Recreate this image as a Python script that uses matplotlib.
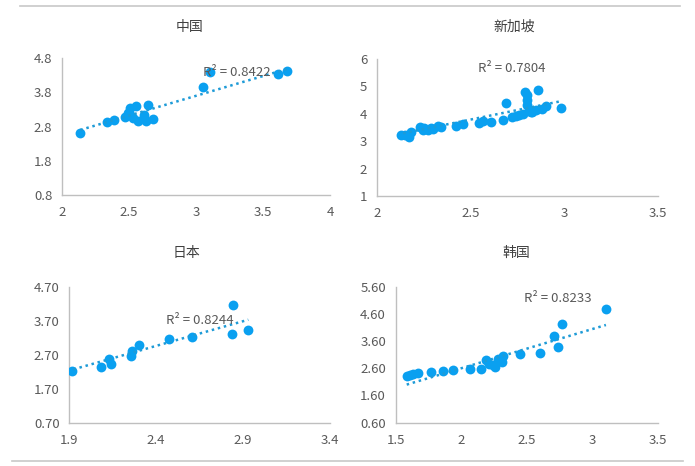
import matplotlib
matplotlib.use("Agg")
import matplotlib.pyplot as plt
from matplotlib.lines import Line2D
import numpy as np

plt.rcParams['font.family'] = ['Noto Sans CJK SC', 'DejaVu Sans']

# ---- data ----
titles = ["中国", "新加坡", "日本", "韩国"]

cn_x = [2.137, 2.335, 2.385, 2.47, 2.51, 2.55, 2.51, 2.53, 2.57, 2.61, 2.63, 2.64, 2.68, 2.61,
        2.49, 3.05, 3.105, 3.61, 3.68]
cn_y = [2.61, 2.92, 3.00, 3.09, 3.34, 3.39, 3.14, 3.04, 2.97, 3.04, 2.95, 3.43, 3.01, 3.14,
        3.20, 3.94, 4.39, 4.33, 4.43]

sg_x = [2.13, 2.15, 2.17, 2.18, 2.23, 2.245, 2.27, 2.30, 2.325, 2.34, 2.42, 2.46, 2.545, 2.566,
        2.61, 2.67, 2.69, 2.72, 2.74, 2.78, 2.79, 2.80, 2.80, 2.80, 2.81, 2.83, 2.85, 2.86, 2.88,
        2.90, 2.98, 2.25, 2.29, 2.76, 2.82]
sg_y = [3.24, 3.22, 3.16, 3.35, 3.51, 3.41, 3.41, 3.44, 3.54, 3.51, 3.56, 3.62, 3.66, 3.74,
        3.71, 3.77, 4.41, 3.87, 3.91, 4.01, 4.80, 4.68, 4.52, 4.32, 4.10, 4.07, 4.13, 4.87, 4.19,
        4.28, 4.22, 3.50, 3.47, 3.95, 4.05]

jp_x = [1.913, 2.08, 2.127, 2.14, 2.253, 2.26, 2.30, 2.476, 2.606, 2.835, 2.843, 2.93]
jp_y = [2.23, 2.34, 2.57, 2.42, 2.67, 2.82, 3.00, 3.16, 3.23, 3.30, 4.16, 3.43]

kr_x = [1.584, 1.61, 1.635, 1.67, 1.77, 1.86, 1.94, 2.07, 2.15, 2.19, 2.21, 2.24, 2.26, 2.28,
        2.31, 2.32, 2.45, 2.60, 2.71, 2.74, 2.77, 3.11]
kr_y = [2.32, 2.35, 2.38, 2.41, 2.46, 2.50, 2.53, 2.56, 2.58, 2.90, 2.77, 2.71, 2.65, 2.96,
        2.84, 3.05, 3.11, 3.17, 3.80, 3.39, 4.22, 4.77]

# trend lines (slope, intercept, x start, x end)
trends = [(1.154, 0.234, 2.137, 3.68),
          (1.39, 0.315, 2.14, 2.975),
          (1.45, -0.52, 1.924, 2.93),
          (1.44, -0.28, 1.584, 3.106)]
r2_labels = ["R² = 0.8422", "R² = 0.7804", "R² = 0.8244", "R² = 0.8233"]

x_ticks = [[2, 2.5, 3, 3.5, 4], [2, 2.5, 3, 3.5], [1.9, 2.4, 2.9, 3.4], [1.5, 2, 2.5, 3, 3.5]]
x_labels = [["2", "2.5", "3", "3.5", "4"], ["2", "2.5", "3", "3.5"],
            ["1.9", "2.4", "2.9", "3.4"], ["1.5", "2", "2.5", "3", "3.5"]]
y_ticks = [[0.8, 1.8, 2.8, 3.8, 4.8], [1, 2, 3, 4, 5, 6], [0.7, 1.7, 2.7, 3.7, 4.7],
           [0.6, 1.6, 2.6, 3.6, 4.6, 5.6]]
y_labels = [["0.8", "1.8", "2.8", "3.8", "4.8"], ["1", "2", "3", "4", "5", "6"],
            ["0.70", "1.70", "2.70", "3.70", "4.70"], ["0.60", "1.60", "2.60", "3.60", "4.60", "5.60"]]

xs = [cn_x, sg_x, jp_x, kr_x]
ys = [cn_y, sg_y, jp_y, kr_y]

# ---- layout ----
W, H = 695, 466
fig = plt.figure(figsize=(W / 100, H / 100), dpi=100)

# axes boxes in pixels: left, right, top, bottom
boxes = [(62, 330, 58, 195), (377, 658, 59, 196), (69.3, 330, 286.7, 422.7), (395.7, 657.5, 286.7, 422.7)]
title_pos = [(190, 27), (514, 27), (186, 253), (516, 253)]
r2_pos = [(237, 72), (512, 68), (200, 320), (558, 299)]

blue = '#0AA0F0'
trend_c = '#1E9BD7'
gray_txt = '#595959'
spine_c = '#BFBFBF'

for i in range(4):
    l, r, t, b = boxes[i]
    ax = fig.add_axes([l / W, 1 - b / H, (r - l) / W, (b - t) / H])
    ax.scatter(xs[i], ys[i], s=50, color=blue, zorder=3, linewidths=0)
    k, c, x0, x1 = trends[i]
    tx = np.array([x0, x1])
    ax.plot(tx, k * tx + c, linestyle=(0, (1, 1.5)), color=trend_c, lw=1.8, zorder=4)
    ax.set_xlim(x_ticks[i][0], x_ticks[i][-1])
    ax.set_ylim(y_ticks[i][0], y_ticks[i][-1])
    ax.set_xticks(x_ticks[i])
    ax.set_xticklabels(x_labels[i])
    ax.set_yticks(y_ticks[i])
    ax.set_yticklabels(y_labels[i])
    ax.tick_params(length=0, colors=gray_txt, labelsize=9.5)
    ax.tick_params(axis='x', pad=8)
    ax.tick_params(axis='y', pad=7)
    for s in ['top', 'right']:
        ax.spines[s].set_visible(False)
    for s in ['left', 'bottom']:
        ax.spines[s].set_color(spine_c)
        ax.spines[s].set_linewidth(1)
    ax.patch.set_alpha(0)
    for lab in ax.get_xticklabels() + ax.get_yticklabels():
        lab.set_clip_on(False)
    tx_, ty_ = title_pos[i]
    fig.text(tx_ / W, 1 - ty_ / H, titles[i], ha='center', va='center', fontsize=10, color='#404040')
    rx, ry = r2_pos[i]
    fig.text(rx / W, 1 - ry / H, r2_labels[i], ha='center', va='center', fontsize=9.5,
             color=gray_txt, zorder=5)

# separator lines
fig.add_artist(Line2D([20 / W, 680 / W], [1 - 6 / H, 1 - 6 / H], color='#C8C8C8', lw=1.2))
fig.add_artist(Line2D([12 / W, 683 / W], [1 - 461 / H, 1 - 461 / H], color='#C8C8C8', lw=1.2))

fig.savefig("out.png", dpi=100)
